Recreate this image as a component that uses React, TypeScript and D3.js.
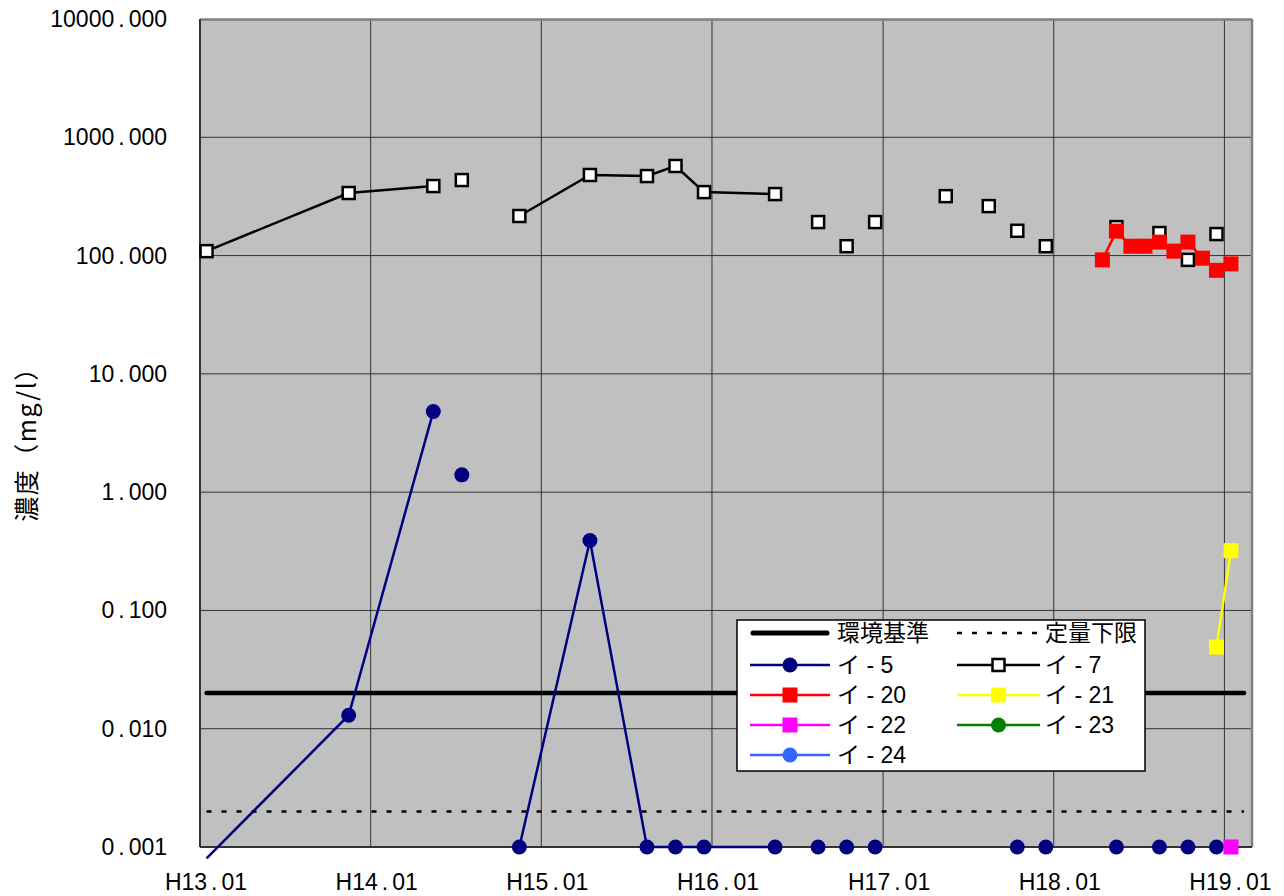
import React from 'react';
import * as d3 from 'd3';

// sampling months (15th of each month); rows with all nulls break the lines like empty cells in the sheet
const dates = [
  '2001-01', '2001-11', '2002-05', '2002-06', '2002-07', '2002-09', '2002-11', '2003-04',
  '2003-08', '2003-10', '2003-12', '2004-05', '2004-07', '2004-08', '2004-09', '2004-10',
  '2004-11', '2004-12', '2005-03', '2005-05', '2005-07', '2005-08', '2005-09', '2005-10',
  '2005-11', '2005-12', '2006-04', '2006-05', '2006-06', '2006-07', '2006-08', '2006-09',
  '2006-10', '2006-11', '2006-12', '2007-01',
];

const i5 = [
  0.0008, 0.013, 4.8, null, 1.4, null, 0.001, 0.39,
  0.001, 0.001, 0.001, 0.001, null, 0.001, null, 0.001,
  null, 0.001, null, null, null, null, null, 0.001,
  null, 0.001, null, 0.001, null, null, 0.001, null,
  0.001, null, 0.001, null,
];
const i7 = [
  109, 338, 387, null, 435, null, 216, 480,
  470, 572, 344, 331, null, 192, null, 120,
  null, 192, null, 318, null, 262, null, 162,
  null, 120, null, 174, null, null, 155, null,
  92, null, 152, null,
];
const i20 = [
  null, null, null, null, null, null, null, null,
  null, null, null, null, null, null, null, null,
  null, null, null, null, null, null, null, null,
  null, null, 92, 161, 120, 120, 130, 109,
  130, 95, 75, 85,
];
const i21 = [...Array(34).fill(null), 0.049, 0.32];
const i22 = [...Array(35).fill(null), 0.001];
const i23: (number | null)[] = Array(36).fill(null);
const i24: (number | null)[] = Array(36).fill(null);

const standard = 0.02; // 環境基準
const quantLimit = 0.002; // 定量下限

const yearTicks = ['2001', '2002', '2003', '2004', '2005', '2006', '2007'];
const yearLabels = ['H13.01', 'H14.01', 'H15.01', 'H16.01', 'H17.01', 'H18.01', 'H19.01'];
const yTicks = [0.001, 0.01, 0.1, 1, 10, 100, 1000, 10000];

const series = [
  { name: 'イ - 5', values: i5, color: '#000080', marker: 'circle', fill: '#000080' },
  { name: 'イ - 7', values: i7, color: '#000000', marker: 'open', fill: '#ffffff' },
  { name: 'イ - 20', values: i20, color: '#ff0000', marker: 'square', fill: '#ff0000' },
  { name: 'イ - 21', values: i21, color: '#ffff00', marker: 'square', fill: '#ffff00' },
  { name: 'イ - 22', values: i22, color: '#ff00ff', marker: 'square', fill: '#ff00ff' },
  { name: 'イ - 23', values: i23, color: '#008000', marker: 'circle', fill: '#008000' },
  { name: 'イ - 24', values: i24, color: '#3366ff', marker: 'circle', fill: '#3366ff' },
];

const LATIN = '"Liberation Sans", Arial, sans-serif';
const CJK = '"Liberation Sans", "Noto Sans CJK JP", sans-serif';

const parseMonth = (s: string) => new Date(+s.slice(0, 4), +s.slice(5, 7) - 1, 15);

const Marker = ({ type, x, y, color, fill }: any) => {
  if (type === 'circle') return <circle cx={x} cy={y} r={7.5} fill={fill} />;
  if (type === 'open')
    return <rect x={x - 6} y={y - 6} width={12} height={12} fill="#fff" stroke={color} strokeWidth={2.5} />;
  return <rect x={x - 7.5} y={y - 7.5} width={15} height={15} fill={fill} />;
};

// label with a wide period, like the original rendering
const Num = ({ s, ...rest }: any) => {
  const [a, b] = s.split('.');
  return (
    <text {...rest}>
      <tspan>{a}</tspan>
      <tspan dx={4}>.</tspan>
      <tspan dx={4}>{b}</tspan>
    </text>
  );
};

export default function App() {
  const left = 200, right = 1252, top = 19, bottom = 847;

  const x = d3
    .scaleTime()
    .domain([new Date(2001, 0, 1), new Date(2007, 2, 1)])
    .range([left, right]);
  const y = d3.scaleLog().domain([0.001, 10000]).range([bottom, top]);

  const pts = dates.map(parseMonth);
  const line = d3
    .line<[Date, number | null]>()
    .defined((d) => d[1] != null)
    .x((d) => x(d[0]))
    .y((d) => y(d[1] as number));

  const refX1 = x(new Date(2001, 0, 15));
  const refX2 = x(new Date(2007, 1, 12));

  const legendRows = [633, 665, 695, 725, 755];
  const legendCols = [{ l1: 750, l2: 830, tx: 837 }, { l1: 957, l2: 1040, tx: 1045 }];

  return (
    <svg width={1284} height={896} style={{ position: 'absolute', left: 0, top: 0 }}>
      <rect x={left} y={top} width={right - left} height={bottom - top} fill="#c0c0c0" />

      {yearTicks.slice(1).map((t) => (
        <line key={t} x1={x(new Date(+t, 0, 1))} x2={x(new Date(+t, 0, 1))} y1={top} y2={bottom} stroke="#333" strokeWidth={1} />
      ))}
      {yTicks.slice(1, -1).map((t) => (
        <line key={t} x1={left} x2={right} y1={y(t)} y2={y(t)} stroke="#333" strokeWidth={1} />
      ))}

      <line x1={left} x2={right} y1={top + 0.5} y2={top + 0.5} stroke="#808080" strokeWidth={2.5} />
      <line x1={right} x2={right} y1={top} y2={bottom} stroke="#808080" strokeWidth={2.5} />
      <line x1={left} x2={left} y1={top} y2={bottom} stroke="#333" strokeWidth={2} />
      <line x1={left} x2={right} y1={bottom} y2={bottom} stroke="#333" strokeWidth={2} />

      {/* reference lines */}
      <line x1={refX1} x2={refX2} y1={y(standard)} y2={y(standard)} stroke="#000" strokeWidth={4.5} strokeLinecap="round" />
      <line x1={refX1} x2={refX2} y1={y(quantLimit)} y2={y(quantLimit)} stroke="#000" strokeWidth={2.5} strokeDasharray="5,10" />

      {series.map((s) => {
        const data = pts.map((d, i) => [d, s.values[i]] as [Date, number | null]);
        return (
          <g key={s.name}>
            <path d={line(data) || ''} fill="none" stroke={s.color} strokeWidth={2.5} />
            {data
              .filter((d) => d[1] != null && (d[1] as number) >= 0.001)
              .map((d, i) => (
                <Marker key={i} type={s.marker} x={x(d[0])} y={y(d[1] as number)} color={s.color} fill={s.fill} />
              ))}
          </g>
        );
      })}

      {/* axis labels */}
      {yTicks.map((t) => (
        <Num key={t} s={d3.format('.3f')(t)} x={167} y={y(t)} textAnchor="end" dominantBaseline="central"
          fontFamily={LATIN} fontSize={23} fill="#000" />
      ))}
      {yearTicks.map((t, i) => (
        <Num key={t} s={yearLabels[i]} x={x(new Date(+t, 0, 1)) + 6} y={890} textAnchor="middle"
          fontFamily={LATIN} fontSize={23} fill="#000" />
      ))}

      <text transform="translate(36,438) rotate(-90)" textAnchor="middle" fontFamily='"Noto Sans CJK JP", sans-serif'
        fontSize={25} letterSpacing={1.5} fill="#000">濃度（mg/l）</text>

      {/* legend */}
      <rect x={737} y={620} width={408} height={151} fill="#fff" stroke="#000" strokeWidth={1.5} />
      <line x1={legendCols[0].l1 + 3} x2={legendCols[0].l2 - 3} y1={legendRows[0]} y2={legendRows[0]} stroke="#000" strokeWidth={5} strokeLinecap="round" />
      <text x={legendCols[0].tx} y={legendRows[0]} dominantBaseline="central" fontFamily={CJK} fontSize={23}>環境基準</text>
      <line x1={legendCols[1].l1} x2={legendCols[1].l2} y1={legendRows[0]} y2={legendRows[0]} stroke="#000" strokeWidth={2.5} strokeDasharray="5,10" />
      <text x={legendCols[1].tx} y={legendRows[0]} dominantBaseline="central" fontFamily={CJK} fontSize={23}>定量下限</text>
      {series.map((s, i) => {
        const col = legendCols[i % 2];
        const ry = legendRows[1 + Math.floor(i / 2)];
        const mx = (col.l1 + col.l2) / 2;
        return (
          <g key={s.name}>
            <line x1={col.l1} x2={col.l2} y1={ry} y2={ry} stroke={s.color} strokeWidth={2.5} />
            <Marker type={s.marker} x={mx} y={ry} color={s.color} fill={s.fill} />
            <text x={col.tx} y={ry} dominantBaseline="central" fontFamily={CJK} fontSize={23}>{s.name}</text>
          </g>
        );
      })}
    </svg>
  );
}
